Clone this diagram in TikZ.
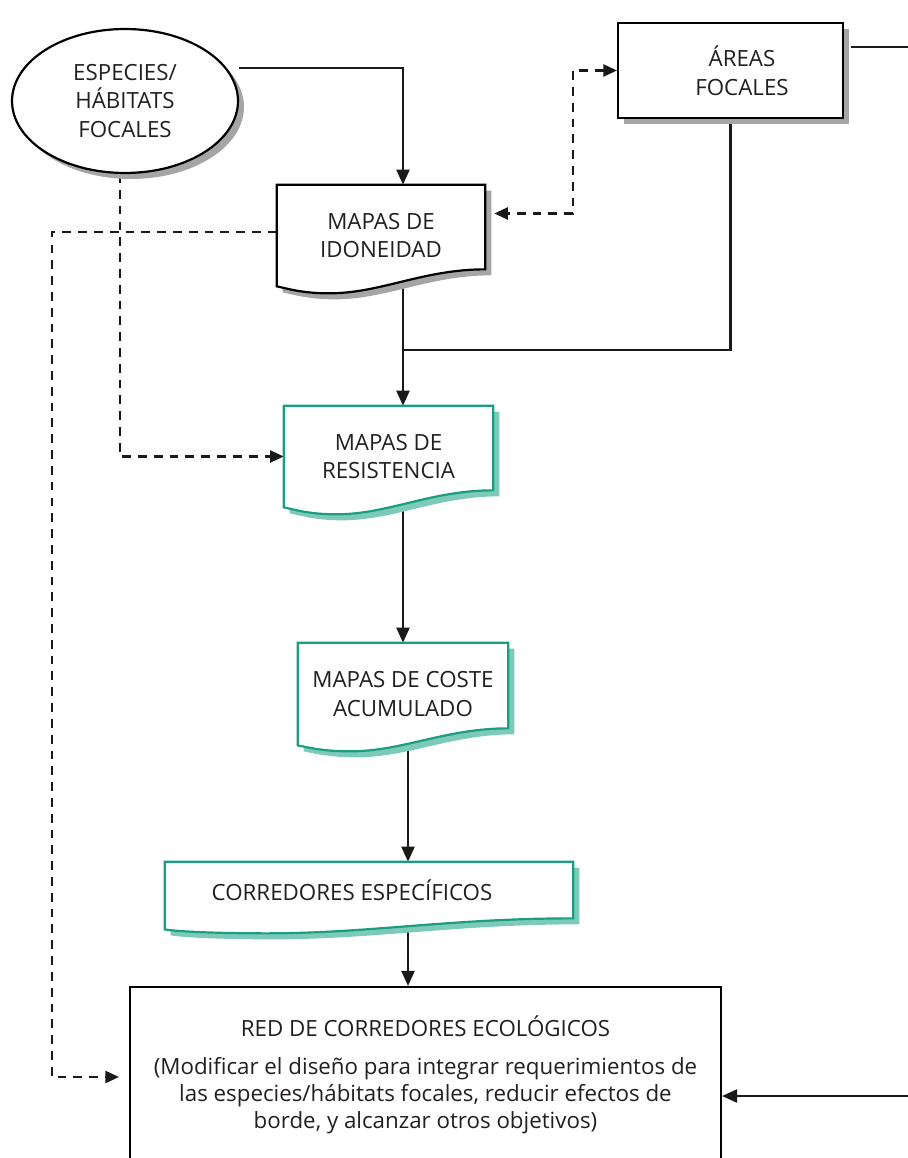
\documentclass[tikz,border=0pt]{standalone}
\usepackage{fontspec}
\setmainfont{Open Sans}
\usetikzlibrary{positioning,calc,shapes.geometric,arrows.meta,shadows}
\definecolor{tealline}{RGB}{26,158,130}
\definecolor{tealshadow}{RGB}{125,202,184}
\definecolor{greyshadow}{RGB}{165,165,165}
\definecolor{txt}{RGB}{35,31,32}
\pgfdeclarelayer{bg}
\pgfdeclarelayer{mid}
\pgfsetlayers{bg,mid,main}

\tikzset{
  every node/.style={font=\fontsize{12.7}{16.2}\selectfont, text=txt, align=center},
  flow/.style={line width=1.25pt, black!90},
  arr/.style={flow, -{Triangle[length=3mm,width=2.6mm]}},
  dasharr/.style={flow, dash pattern=on 5pt off 4pt, -{Triangle[length=2.7mm,width=2.4mm]}},
  dashboth/.style={flow, dash pattern=on 5pt off 4pt, {Triangle[length=2.7mm,width=2.4mm]}-{Triangle[length=2.7mm,width=2.4mm]}},
  greyshade/.style={drop shadow={shadow xshift=1.2mm, shadow yshift=-1.2mm, fill=greyshadow, opacity=1}},
  tealshade/.style={drop shadow={shadow xshift=1.2mm, shadow yshift=-1.2mm, fill=tealshadow, opacity=1}},
  box/.style={draw, line width=1.25pt, fill=white, inner sep=0pt},
  docbox/.style={inner sep=0pt},
  blackdoc/.style={draw=black, line width=1.25pt, fill=white, greyshade},
  tealdoc/.style={draw=tealline, line width=1.25pt, fill=white, tealshade},
}

% document shape with a wavy foot: node, style, rise of right corner, dip
\newcommand{\docshape}[4]{%
  \begin{pgfonlayer}{mid}
  \draw[#2] (#1.north west) -- (#1.north east) -- ($(#1.south east)+(0,-#3)$)
    .. controls ($(#1.south east)!0.3!(#1.south west)+(0,-#3)$) and ($(#1.south west)!0.5!(#1.south east)+(0,#4)$) .. ($(#1.south west)!0.25!(#1.south east)+(0,#4)$)
    .. controls ($(#1.south west)!0.12!(#1.south east)+(0,#4)$) and ($(#1.south west)+(10,2)$) .. (#1.south west) -- cycle;
  \end{pgfonlayer}}

\begin{document}
\begin{tikzpicture}[x=0.02cm, y=-0.02cm]
  \useasboundingbox (0,0) rectangle (908,1158);

  % inputs
  \node[box, ellipse, greyshade, minimum width=4.52cm, minimum height=2.88cm] (esp) at (125,101) {ESPECIES/\\HÁBITATS\\FOCALES};
  \node[box, greyshade, minimum width=4.5cm, minimum height=1.9cm,
    label={[xshift=2.3mm]center:{ÁREAS\\FOCALES}}] (areas) at (730.5,70.5) {};

  % maps
  \node[docbox, minimum width=4.16cm, minimum height=2.02cm] (ido) at (381,235.5) {MAPAS DE\\IDONEIDAD};
  \node[docbox, minimum width=4.18cm, minimum height=2.02cm] (res) at (388.5,456.5) {MAPAS DE\\RESISTENCIA};
  \node[docbox, minimum width=4.2cm, minimum height=2.04cm] (coste) at (403,694) {MAPAS DE COSTE\\ACUMULADO};
  \node[docbox, minimum width=8.16cm, minimum height=1.34cm,
    label={[xshift=-3.4mm, yshift=1.1mm]center:CORREDORES ESPECÍFICOS}] (corr) at (369,895.5) {};
  \docshape{ido}{blackdoc}{17}{7}
  \docshape{res}{tealdoc}{17}{7}
  \docshape{coste}{tealdoc}{17}{6}
  \docshape{corr}{tealdoc}{11}{4}

  % result
  \node[box, minimum width=11.82cm, minimum height=4.36cm,
    label={[anchor=north, yshift=-4.8mm, font=\fontsize{12.7}{15.3}\selectfont]north:{RED DE CORREDORES ECOLÓGICOS\\[6pt](Modificar el diseño para integrar requerimientos de\\las especies/hábitats focales, reducir efectos de\\borde, y alcanzar otros objetivos)}}] (red) at (425.5,1096) {};

  \coordinate (spine) at (403,0);
  \coordinate (spineb) at (408,0);
  \coordinate (join) at (403,350);
  \coordinate (lrail) at (52,1077);
  \coordinate (mrail) at (573,0);
  \coordinate (rrail) at (960,600);

  \begin{pgfonlayer}{bg}
    \draw[arr] ([xshift=2.5mm]esp.18) -| (ido.north -| spine);
    \draw[dasharr] ([xshift=-1mm]esp.south) |- (res.west);
    \draw[dasharr, shorten >=2mm] ([yshift=0.7mm]ido.west) -| (lrail) -- (lrail -| red.west);
    \draw[dashboth, shorten >=1.8mm] (areas.west) -- (areas.west -| mrail) |- ([yshift=4.4mm]ido.east);
    \draw[arr] ([shift={(1.4mm,4.7mm)}]areas.east) -| (rrail) |- (red.east);
    \draw[flow] (areas.south) |- (join);
    \draw[arr] (ido.south -| spine) -- (res.north -| spine);
    \draw[arr] (res.south -| spine) -- (coste.north -| spine);
    \draw[arr] (coste.south -| spineb) -- (corr.north -| spineb);
    \draw[arr] (corr.south -| spineb) -- (red.north -| spineb);
  \end{pgfonlayer}
\end{tikzpicture}
\end{document}
